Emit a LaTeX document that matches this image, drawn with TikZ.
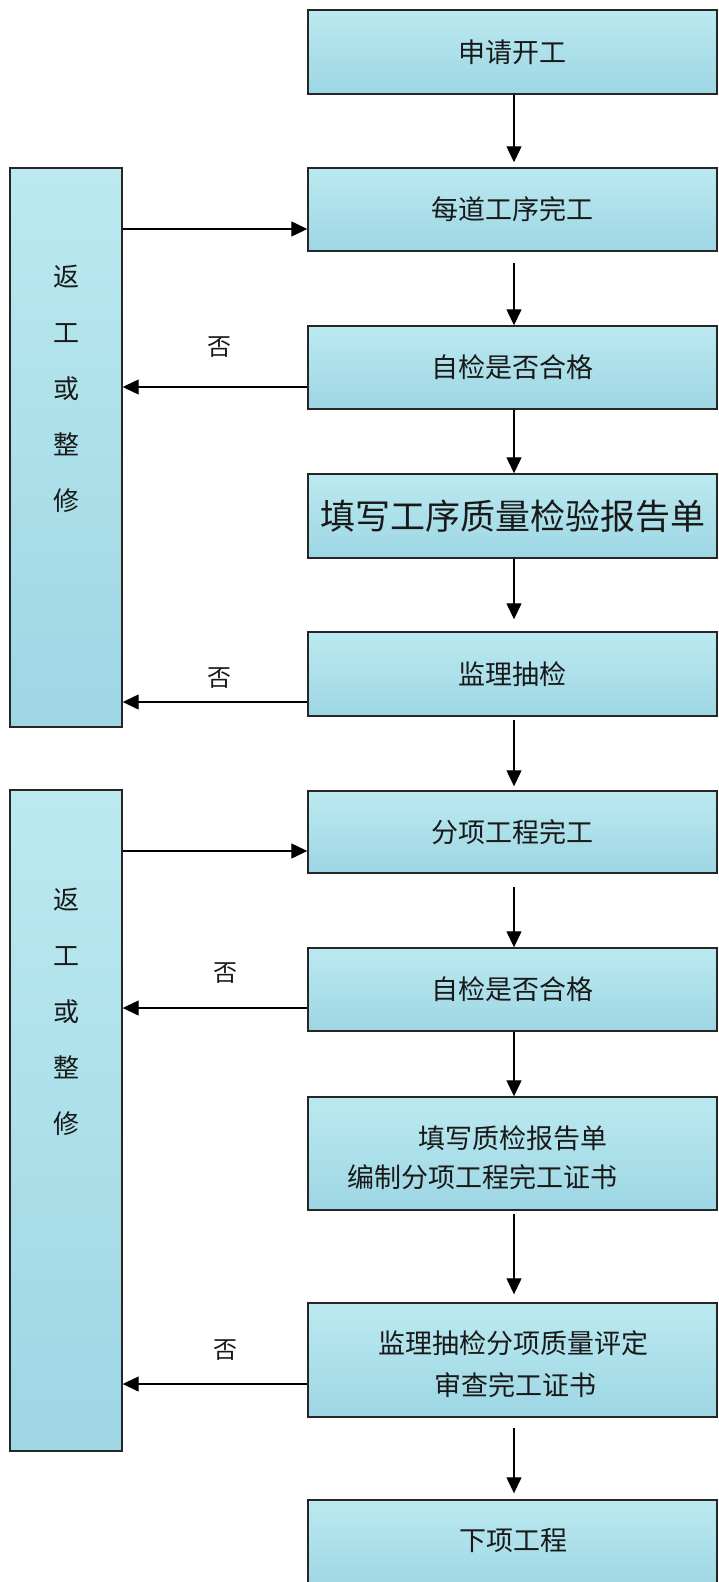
\documentclass[tikz,border=0pt]{standalone}
\usepackage{fontspec}
\newfontfamily\cjk{Noto Sans CJK SC}
\usetikzlibrary{arrows.meta}
\definecolor{droptop}{RGB}{188,233,240}
\definecolor{drop}{RGB}{172,224,234}
\definecolor{dropbot}{RGB}{158,214,228}
\definecolor{ink}{RGB}{25,25,25}
\tikzset{
  box/.style={draw=black!85, line width=1.4pt, top color=droptop, bottom color=dropbot,
    middle color=drop, inner sep=0pt, text=ink, font=\cjk\fontsize{27}{39}\selectfont, align=center},
  rbox/.style={box, minimum width=409pt},
  lbox/.style={box, minimum width=112pt},
  txt/.style={text=ink, font=\cjk\fontsize{27}{39}\selectfont, inner sep=0pt, align=center},
  vtxt/.style={text=ink, font=\cjk\fontsize{26}{56}\selectfont, inner sep=0pt, align=center},
  notxt/.style={text=ink, font=\cjk\fontsize{24}{30}\selectfont, inner sep=0pt},
  arr/.style={line width=1.3pt, -{Triangle[width=15pt,length=16pt]}}
}
\begin{document}
\begin{tikzpicture}[x=1pt,y=-1pt]
\useasboundingbox (0,0) rectangle (719,1582);
\clip (0,0) rectangle (719,1582);
% right column
\node[rbox, minimum height=84pt] (b1) at (512.5,52) {申请开工};
\node[rbox, minimum height=83pt] (b2) at (512.5,209.5) {每道工序完工};
\node[rbox, minimum height=83pt] (b3) at (512.5,367.5) {自检是否合格};
\node[rbox, minimum height=84pt, font=\cjk\fontsize{35}{40}\selectfont] (b4) at (512.5,516) {填写工序质量检验报告单};
\node[rbox, minimum height=84pt] (b5) at (512.5,674) {监理抽检};
\node[rbox, minimum height=82pt] (b6) at (512.5,832) {分项工程完工};
\node[rbox, minimum height=83pt] (b7) at (512.5,989.5) {自检是否合格};
\node[rbox, minimum height=113pt] (b8) at (512.5,1153.5) {};
\node[txt] (t8a) at (513,1138) {填写质检报告单};
\node[txt] (t8b) at (482,1177) {编制分项工程完工证书};
\node[rbox, minimum height=114pt] (b9) at (512.5,1360) {};
\node[txt] (t9a) at (513,1343) {监理抽检分项质量评定};
\node[txt] (t9b) at (515,1385) {审查完工证书};
\node[rbox, minimum height=90pt] (b10) at (512.5,1545) {};
\node[txt] (t10) at (513,1540) {下项工程};
% left column
\node[lbox, minimum height=559pt] (l1) at (66,447.5) {};
\node[vtxt] (v1) at (66,389) {返\\工\\或\\整\\修};
\node[lbox, minimum height=661pt] (l2) at (66,1120.5) {};
\node[vtxt] (v2) at (66,1011.5) {返\\工\\或\\整\\修};
% labels
\node[notxt] (n1) at (219,347) {否};
\node[notxt] (n2) at (219,678) {否};
\node[notxt] (n3) at (225,973) {否};
\node[notxt] (n4) at (225,1350) {否};
% vertical arrows
\draw[arr, shorten >=5pt] (b1.south -| 514,0) -- (b2.north -| 514,0);
\draw[arr, shorten <=11pt] (b2.south -| 514,0) -- (b3.north -| 514,0);
\draw[arr] (b3.south -| 514,0) -- (b4.north -| 514,0);
\draw[arr, shorten >=12pt] (b4.south -| 514,0) -- (b5.north -| 514,0);
\draw[arr, shorten <=3pt, shorten >=4pt] (b5.south -| 514,0) -- (b6.north -| 514,0);
\draw[arr, shorten <=13pt] (b6.south -| 514,0) -- (b7.north -| 514,0);
\draw[arr] (b7.south -| 514,0) -- (b8.north -| 514,0);
\draw[arr, shorten <=3pt, shorten >=8pt] (b8.south -| 514,0) -- (b9.north -| 514,0);
\draw[arr, shorten <=10pt, shorten >=6pt] (b9.south -| 514,0) -- (b10.north -| 514,0);
% horizontal arrows
\draw[arr] (l1.east |- 0,229) -- (b2.west |- 0,229);
\draw[arr] (b3.west |- 0,387) -- (l1.east |- 0,387);
\draw[arr] (b5.west |- 0,702) -- (l1.east |- 0,702);
\draw[arr] (l2.east |- 0,851) -- (b6.west |- 0,851);
\draw[arr] (b7.west |- 0,1008) -- (l2.east |- 0,1008);
\draw[arr] (b9.west |- 0,1384) -- (l2.east |- 0,1384);
\end{tikzpicture}
\end{document}
